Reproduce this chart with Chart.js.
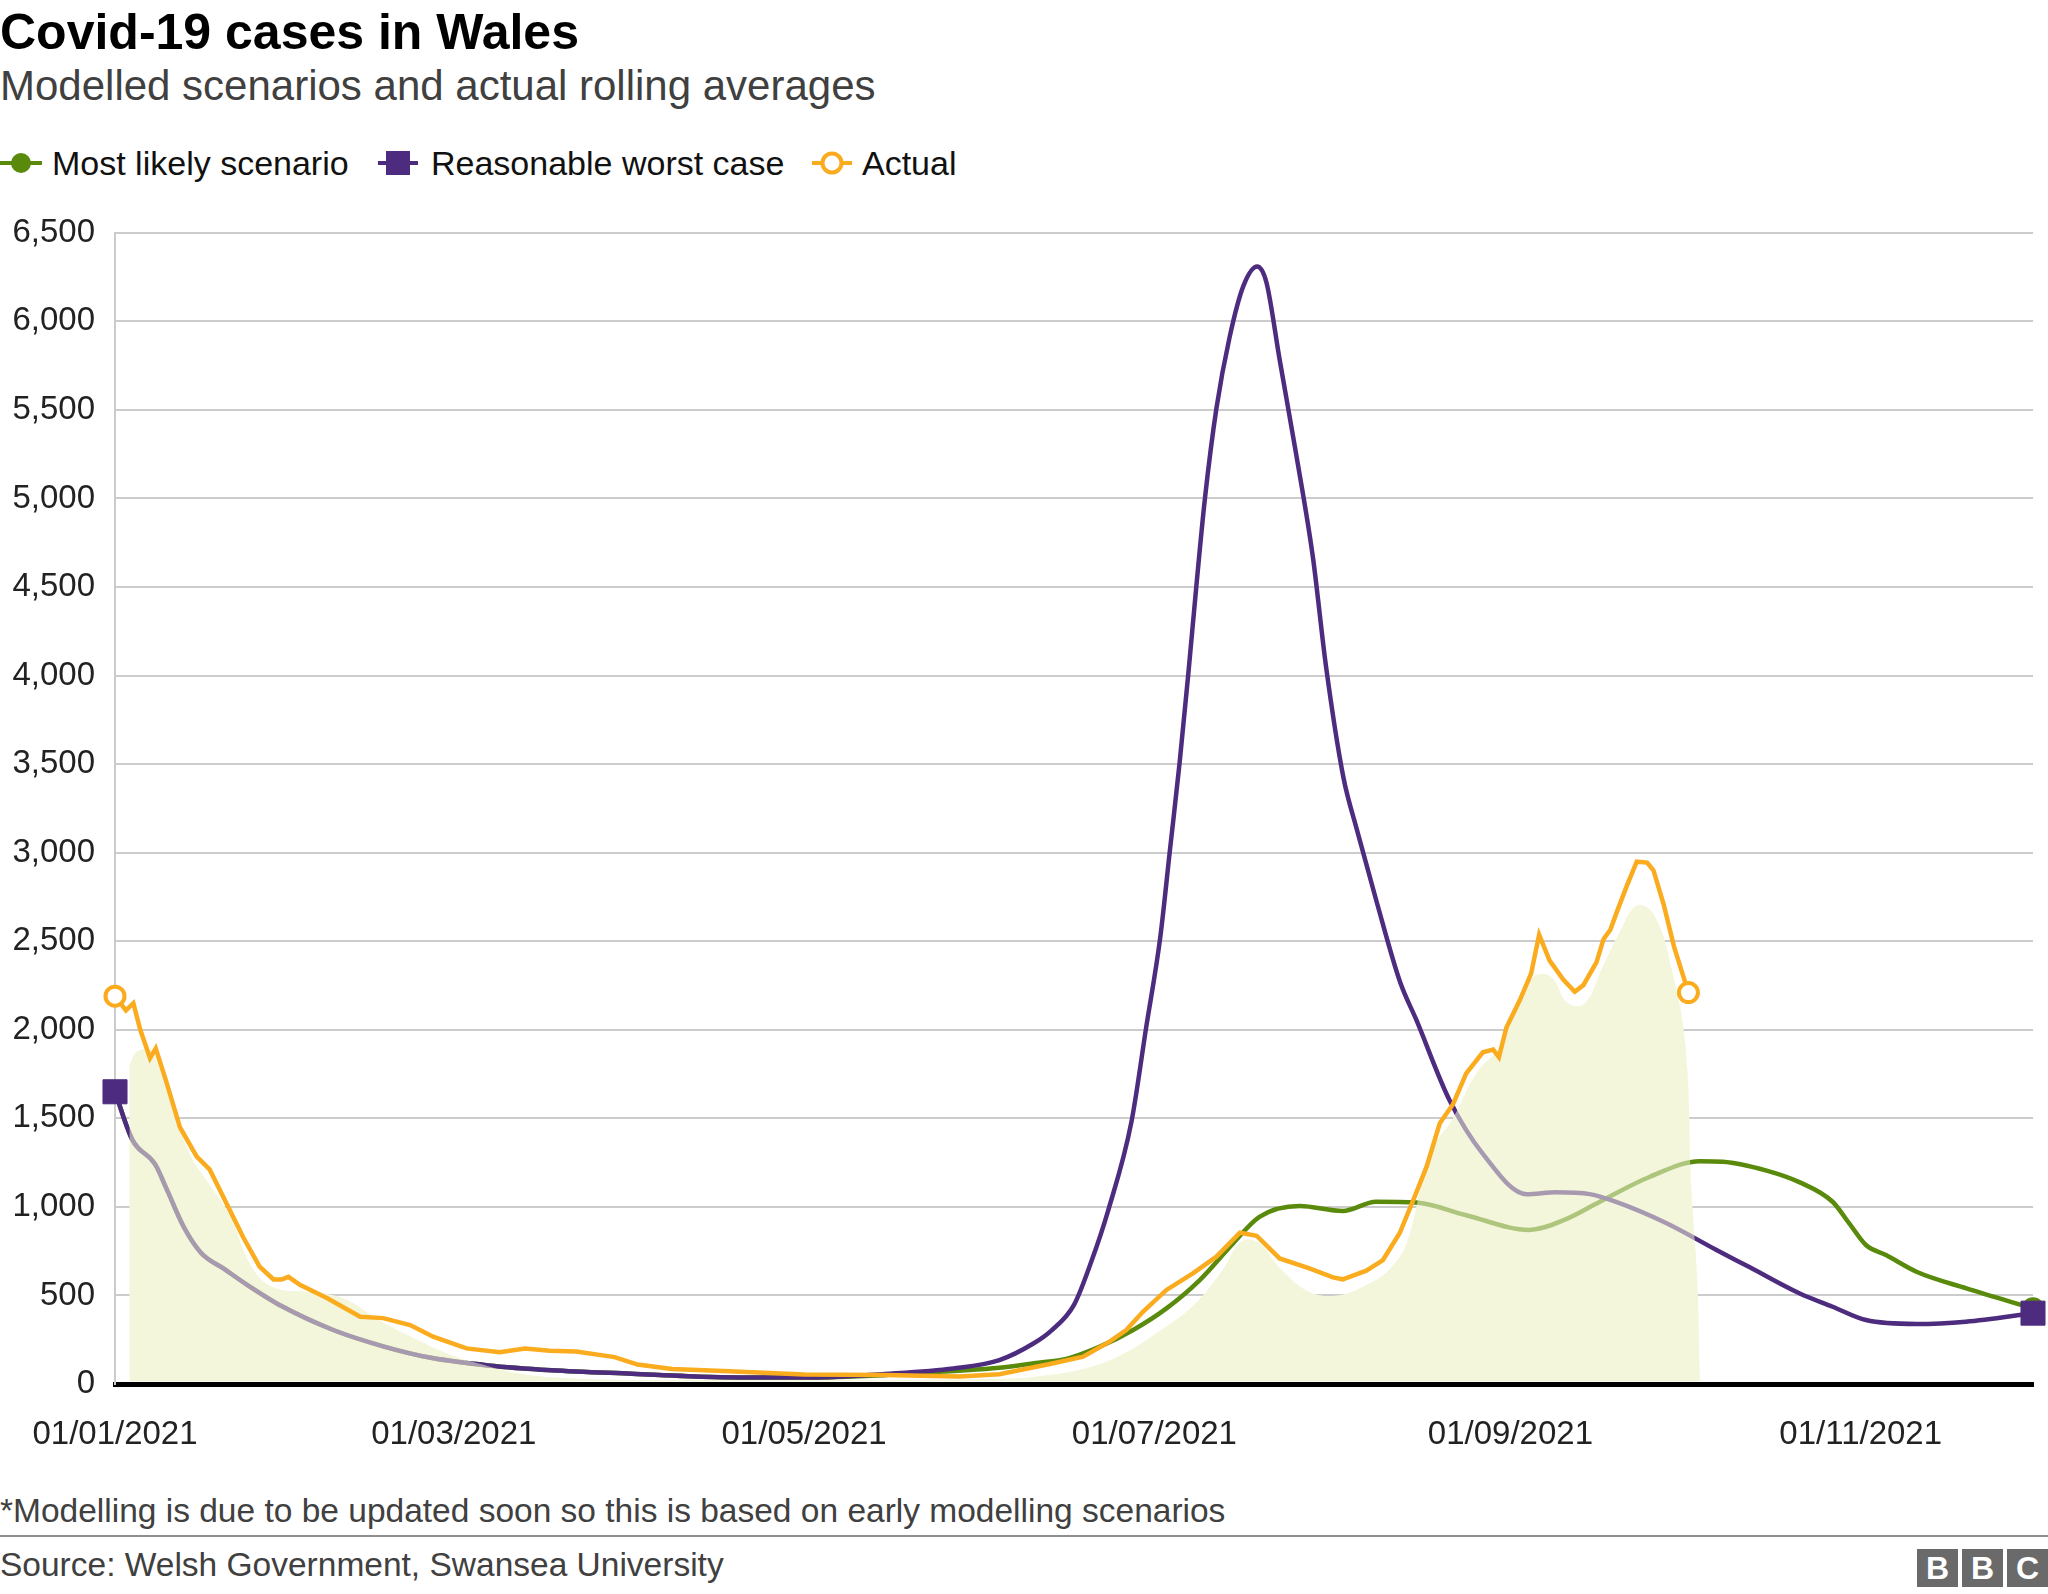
<!DOCTYPE html>
<html>
<head>
<meta charset="utf-8">
<script src="https://cdn.jsdelivr.net/npm/chart.js@4"></script>
<style>
  body { margin: 0; width: 2048px; height: 1594px; background: #fff; font-family: "Liberation Sans", Arial, Helvetica, sans-serif; position: relative; overflow: hidden; }
  .abs { position: absolute; white-space: nowrap; }
  #title { left: 0; top: 7px; font-size: 50px; line-height: 50px; font-weight: bold; color: #000; }
  #subtitle { left: 0; top: 65px; font-size: 42px; line-height: 42px; color: #404040; }
  .leg { top: 146px; font-size: 34px; line-height: 34px; color: #111; }
  #chart { position: absolute; left: 0; top: 193px; }
  #note { left: 0; top: 1494px; font-size: 33.5px; line-height: 33.5px; color: #404040; }
  #rule { left: 0; top: 1535px; width: 2048px; height: 2px; background: #8f8f8f; }
  #source { left: 0; top: 1548px; font-size: 33.5px; line-height: 33.5px; color: #404040; }
  .bbc { top: 1549px; width: 41px; height: 38px; background: #6a6a6a; color: #fff; font-weight: bold; font-size: 32px; line-height: 38px; text-align: center; }
</style>
</head>
<body>
<div id="title" class="abs">Covid-19 cases in Wales</div>
<div id="subtitle" class="abs">Modelled scenarios and actual rolling averages</div>

<svg class="abs" style="left:0;top:146px" width="44" height="34"><line x1="0" y1="17" x2="42" y2="17" stroke="#5a8a0c" stroke-width="4"/><circle cx="21" cy="17" r="10" fill="#5a8a0c"/></svg>
<div class="abs leg" style="left:52px">Most likely scenario</div>
<svg class="abs" style="left:378px;top:146px" width="42" height="34"><line x1="0" y1="17" x2="40" y2="17" stroke="#4d2c7f" stroke-width="4"/><rect x="8" y="5" width="24" height="24" fill="#4d2c7f"/></svg>
<div class="abs leg" style="left:431px">Reasonable worst case</div>
<svg class="abs" style="left:812px;top:146px" width="42" height="34"><line x1="0" y1="17" x2="40" y2="17" stroke="#faab1e" stroke-width="4"/><circle cx="20" cy="17" r="9.5" fill="#fff" stroke="#faab1e" stroke-width="4"/></svg>
<div class="abs leg" style="left:862px">Actual</div>

<canvas id="chart" width="2048" height="1270"></canvas>

<div id="note" class="abs">*Modelling is due to be updated soon so this is based on early modelling scenarios</div>
<div id="rule" class="abs"></div>
<div id="source" class="abs">Source: Welsh Government, Swansea University</div>
<div class="abs bbc" style="left:1917px">B</div>
<div class="abs bbc" style="left:1962px">B</div>
<div class="abs bbc" style="left:2007px">C</div>

<script>
// x values are days since 01/01/2021
const tickDays = [0, 59, 120, 181, 243, 304];
const tickLabels = ['01/01/2021', '01/03/2021', '01/05/2021', '01/07/2021', '01/09/2021', '01/11/2021'];

const worstDays = [0, 3, 7, 9, 12, 15, 19, 23, 29, 38, 47, 55, 65, 76, 90, 104, 120, 134, 146, 154, 160, 163, 167, 170, 173, 177,
  179.6, 182, 183.7, 185.4, 186.9, 188.3, 189.8, 191.8, 194.1, 196.5, 198.9, 200.5, 202.8, 205.7, 208.6, 210.9, 213.9, 216.2,
  219.7, 223.8, 226.6, 232.4, 238.2, 245.8, 251, 256.8, 261.4, 270.1, 278.8, 284.6, 293.3, 299.1, 304.9, 313.7, 322.3, 334];
const worstCase = [1650, 1380, 1240, 1100, 885, 740, 650, 560, 440, 305, 210, 148, 105, 78, 58, 40, 36, 57, 88, 135, 230, 300, 447, 690, 985, 1480,
  2020, 2517, 3013, 3510, 4007, 4503, 5000, 5509, 5911, 6200, 6310, 6221, 5786, 5248, 4669, 4048, 3427, 3137,
  2723, 2268, 2057, 1602, 1299, 1072, 1083, 1072, 1028, 909, 758, 660, 512, 436, 361, 339, 352, 400];

const likelyDays = [0, 3, 7, 9, 12, 15, 19, 23, 29, 38, 47, 55, 65, 76, 90, 104, 120, 134, 140, 147, 154, 160, 166, 171.5, 177.3,
  183.1, 188.9, 194.7, 199.3, 206.3, 213.8, 219.6, 226.6, 235.3, 246.3, 252.7, 258.5, 267.2, 276, 280, 287.6, 293.3, 299.1,
  302, 304.9, 308.4, 313.7, 322.4, 334];
const likely = [1650, 1380, 1240, 1100, 885, 740, 650, 560, 440, 305, 210, 148, 105, 78, 58, 40, 36, 50, 62, 75, 92, 117, 145, 211, 305,
  427, 587, 794, 944, 1005, 977, 1029, 1025, 953, 870, 931, 1028, 1169, 1258, 1255, 1205, 1140, 1029,
  907, 785, 728, 634, 540, 427];

const actualDays = [0, 1.9, 3.2, 4.4, 6.1, 7.1, 9, 11.3, 14.2, 16.5, 19.4, 22.3, 25.2, 27.6, 29, 30.2, 32.2, 36.9, 42.7, 46.7, 51.4,
  55.4, 61.2, 67, 71.4, 75.7, 80.3, 87, 91, 97, 107, 120, 134, 147, 154, 162.8, 168.6, 173.2, 176.1, 179, 183.1, 187.7, 191.8,
  195.9, 198.8, 202.8, 208, 212.1, 213.8, 217.9, 220.8, 223.7, 226.1, 228.4, 230.7, 233, 235.3, 238.2, 240, 241, 242.3, 244.6,
  246.6, 248, 249.8, 252.2, 254.2, 255.7, 258, 259.2, 260.4, 261.5, 263.3, 265, 266.8, 267.9, 269.7, 271.5, 274];
const actual = [2190, 2110, 2150, 2000, 1840, 1895, 1700, 1450, 1285, 1210, 1020, 830, 662, 590, 590, 605, 560, 485, 380, 372, 333,
  267, 201, 180, 200, 188, 184, 152, 110, 85, 72, 53, 51, 42, 55, 113, 154, 239, 305, 408, 531, 625, 719,
  854, 837, 709, 653, 602, 591, 640, 700, 851, 1039, 1227, 1472, 1580, 1754, 1873, 1888, 1845, 2013, 2165,
  2317, 2537, 2392, 2284, 2215, 2252, 2382, 2511, 2565, 2663, 2815, 2949, 2944, 2901, 2706, 2468, 2210];

// pale wash behind the lines
const washDays = [2.5, 4, 7, 10, 13, 17, 20, 24, 28, 34, 40, 46, 52, 58, 64, 70, 80, 100, 130, 155, 160, 168, 175, 182, 188, 193,
  196, 199, 203, 208, 213, 218, 222, 225, 229, 233, 237, 241, 244, 247, 250, 253, 256, 259, 262, 265, 268, 271, 273.5, 274.5, 275.5, 276];
const wash = [1800, 1880, 1870, 1600, 1300, 1100, 950, 650, 540, 520, 480, 360, 260, 170, 110, 60, 30, 22, 22, 30, 40, 80, 160, 300, 450, 650,
  800, 800, 650, 520, 500, 560, 650, 800, 1300, 1500, 1750, 1900, 2100, 2300, 2300, 2150, 2150, 2350, 2550, 2700, 2650, 2350, 1900, 1100, 600, 20];

const pts = (days, vals) => days.map((d, i) => ({ x: d, y: vals[i] }));
const ends = r => ctx => (ctx.dataIndex === 0 || ctx.dataIndex === ctx.dataset.data.length - 1) ? r : 0;

const ctx = document.getElementById('chart').getContext('2d');
new Chart(ctx, {
  type: 'line',
  data: {
    datasets: [
      {
        label: 'Actual',
        data: pts(actualDays, actual),
        borderColor: '#faab1e',
        borderWidth: 4.5,
        tension: 0,
        pointStyle: 'circle',
        pointRadius: ends(9.5),
        pointBackgroundColor: '#fff',
        pointBorderColor: '#faab1e',
        pointBorderWidth: 4,
        clip: false
      },
      {
        label: 'wash-top',
        data: pts(washDays, wash),
        fill: { value: 16 },
        backgroundColor: 'rgba(243,246,216,0.55)',
        borderWidth: 0,
        pointRadius: 0,
        tension: 0.4
      },
      {
        label: 'Reasonable worst case',
        data: pts(worstDays, worstCase),
        borderColor: '#4d2c7f',
        borderWidth: 4.5,
        cubicInterpolationMode: 'monotone',
        pointStyle: 'rect',
        pointRadius: ends(17),
        pointBackgroundColor: '#4d2c7f',
        pointBorderColor: '#4d2c7f',
        pointBorderWidth: 1,
        clip: false
      },
      {
        label: 'Most likely scenario',
        data: pts(likelyDays, likely),
        borderColor: '#5a8a0c',
        borderWidth: 4.5,
        cubicInterpolationMode: 'monotone',
        pointRadius: ends(9),
        pointBackgroundColor: '#5a8a0c',
        pointBorderColor: '#5a8a0c',
        clip: false
      },
      {
        label: 'wash-base',
        data: pts(washDays, wash),
        fill: { value: 16 },
        backgroundColor: '#f4f7dc',
        borderWidth: 0,
        pointRadius: 0,
        tension: 0.4
      }
    ]
  },
  options: {
    responsive: false,
    animation: false,
    devicePixelRatio: 1,
    layout: { autoPadding: false, padding: { left: 0, right: 15, top: 0, bottom: 0 } },
    plugins: { legend: { display: false }, tooltip: { enabled: false } },
    scales: {
      x: {
        type: 'linear',
        min: 0,
        max: 334,
        afterBuildTicks: scale => { scale.ticks = tickDays.map(v => ({ value: v })); },
        afterFit: scale => { scale.height = 79; },
        grid: { display: false, drawTicks: false },
        border: { display: true, color: '#000', width: 5 },
        ticks: {
          autoSkip: false,
          maxRotation: 0,
          padding: 31,
          color: '#222',
          font: { family: 'Liberation Sans', size: 33 },
          callback: value => tickLabels[tickDays.indexOf(value)]
        }
      },
      y: {
        min: 0,
        max: 6500,
        afterFit: scale => { scale.width = 115; },
        grid: {
          drawTicks: false,
          lineWidth: 2,
          color: c => c.tick.value === 0 ? 'rgba(0,0,0,0)' : '#cccccc'
        },
        border: { display: true, color: '#cccccc', width: 2 },
        ticks: {
          stepSize: 500,
          padding: 20,
          color: '#222',
          font: { family: 'Liberation Sans', size: 33 },
          callback: value => value.toLocaleString('en-GB')
        }
      }
    }
  }
});
</script>
</body>
</html>
